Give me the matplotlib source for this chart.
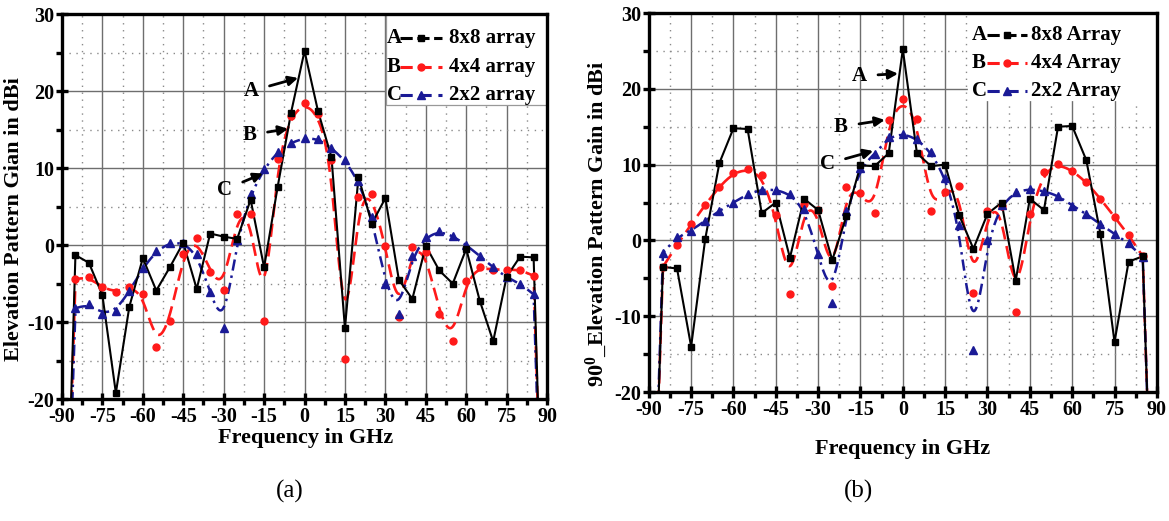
import numpy as np
import matplotlib
matplotlib.use("Agg")
import matplotlib.pyplot as plt
from matplotlib.patches import Rectangle
from matplotlib.lines import Line2D
from matplotlib.ticker import MultipleLocator

plt.rcParams['font.family'] = ['Liberation Serif', 'DejaVu Serif']
plt.rcParams['font.weight'] = 'bold'
plt.rcParams['mathtext.fontset'] = 'custom'
plt.rcParams['mathtext.rm'] = 'Liberation Serif:bold'
plt.rcParams['mathtext.it'] = 'Liberation Serif:bold'
plt.rcParams['mathtext.bf'] = 'Liberation Serif:bold'

# ---------------- data ----------------
angles = list(range(-90, 91, 5))

# panel (a)
a_8x8 = [-60, -1.3, -2.3, -6.5, -19.2, -8.0, -1.7, -5.9, -2.9, 0.3, -5.7, 1.5, 1.1, 0.8,
         5.9, -2.9, 7.5, 17.2, 25.2, 17.4, 11.4, -10.8, 8.8, 2.8, 6.1, -4.5, -7.0, -0.1,
         -3.3, -5.0, -0.5, -7.2, -12.5, -4.1, -1.5, -1.6, -60]
a_4x4 = [-60, -4.4, -4.2, -5.5, -6.1, -5.5, -6.3, -13.2, -9.9, -1.2, 0.9, -3.5, -5.8, 4.0,
         4.0, -9.9, 11.2, 16.8, 18.4, 17.0, 11.0, -14.8, 6.2, 6.6, -0.1, -9.4, -0.3, -0.9,
         -8.9, -12.5, -4.6, -2.9, -3.2, -3.2, -3.2, -4.0, -60]
a_2x2 = [-60, -8.2, -7.7, -8.9, -8.5, -6.0, -3.0, -0.8, 0.3, 0.3, -1.2, -6.1, -10.8, 0.7,
         6.6, 9.9, 12.1, 13.3, 13.9, 13.8, 12.6, 11.0, 8.3, 3.6, -5.0, -8.9, -1.4, 1.0,
         1.8, 1.2, 0.0, -1.4, -2.9, -4.2, -5.0, -6.4, -60]

# panel (b)
b_8x8 = [-60, -3.5, -3.7, -14.0, 0.2, 10.2, 14.8, 14.7, 3.6, 5.0, -2.3, 5.5, 4.0, -2.6,
         3.2, 9.9, 9.8, 11.5, 25.2, 11.5, 9.8, 10.0, 3.3, -1.1, 3.5, 5.0, -5.3, 5.5,
         4.0, 15.0, 15.1, 10.6, 0.9, -13.4, -2.8, -2.1, -60]
b_4x4 = [-60, -3.5, -0.6, 2.1, 4.7, 7.1, 8.9, 9.4, 8.6, 3.3, -7.1, 4.8, 4.0, -6.0,
         7.0, 6.2, 3.6, 15.9, 18.6, 16.0, 3.9, 6.4, 7.2, -6.9, 3.9, 4.6, -9.4, 3.5,
         9.0, 10.1, 9.2, 7.7, 5.5, 3.1, 0.7, -2.1, -60]
b_2x2 = [-60, -1.6, 0.4, 1.3, 2.6, 3.9, 5.0, 6.1, 6.7, 6.7, 6.1, 4.2, -1.8, -8.2,
         3.9, 9.6, 11.4, 13.6, 14.1, 13.4, 11.6, 8.3, 2.0, -14.5, 0.1, 4.7, 6.4, 6.8,
         6.5, 5.9, 4.6, 3.5, 2.1, 0.9, -0.4, -2.2, -60]

legend_a = ["8x8 array", "4x4 array", "2x2 array"]
legend_b = ["8x8 Array", "4x4 Array", "2x2 Array"]
letters = ["A", "B", "C"]
xticks = list(range(-90, 91, 15))
yticks = list(range(-20, 31, 10))

RED = '#ff1a1a'
BLUE = '#1a1a96'


def bspline(x, y, n=24):
    """uniform cubic B-spline (clamped) through interior control points"""
    px = np.r_[x[0], x[0], x, x[-1], x[-1]].astype(float)
    py = np.r_[y[0], y[0], y, y[-1], y[-1]].astype(float)
    t = np.linspace(0, 1, n, endpoint=False)
    b0 = (1 - t) ** 3 / 6
    b1 = (3 * t ** 3 - 6 * t ** 2 + 4) / 6
    b2 = (-3 * t ** 3 + 3 * t ** 2 + 3 * t + 1) / 6
    b3 = t ** 3 / 6
    xs, ys = [], []
    for i in range(len(px) - 3):
        xs.append(b0 * px[i] + b1 * px[i + 1] + b2 * px[i + 2] + b3 * px[i + 3])
        ys.append(b0 * py[i] + b1 * py[i + 1] + b2 * py[i + 2] + b3 * py[i + 3])
    xs = np.concatenate(xs + [[px[-1]]])
    ys = np.concatenate(ys + [[py[-1]]])
    return xs, ys


def smooth_series(x, y):
    x = np.asarray(x, float)
    y = np.asarray(y, float)
    sx, sy = bspline(x[1:-1], y[1:-1])
    return np.r_[x[0], sx, x[-1]], np.r_[y[0], sy, y[-1]]


styles = [
    dict(color='black', ls='-', lw=1.5, marker='s', ms=4.5),
    dict(color=RED, ls=(0, (5, 2.5)), lw=1.9, marker='o', ms=5),
    dict(color=BLUE, ls=(0, (4.5, 2, 1, 2)), lw=1.8, marker='^', ms=5.5),
]


def draw_panel(ax, series, labels, legbox, legrows, hx, annots):
    x = np.asarray(angles, float)
    s0 = styles[0]
    ax.plot(x, series[0], color=s0['color'], ls='-', lw=s0['lw'], zorder=3)
    ax.plot(x[1:-1], series[0][1:-1], ls='none', marker='s', ms=s0['ms'],
            color='black', zorder=4)
    for k in (1, 2):
        st = styles[k]
        sx, sy = smooth_series(x, series[k])
        ax.plot(sx, sy, color=st['color'], ls=st['ls'], lw=st['lw'], zorder=2)
        ax.plot(x[1:-1], series[k][1:-1], ls='none', marker=st['marker'],
                ms=st['ms'], color=st['color'], zorder=3)

    ax.set_xlim(-90, 90)
    ax.set_ylim(-20, 30)
    ax.xaxis.set_minor_locator(MultipleLocator(7.5))
    ax.yaxis.set_minor_locator(MultipleLocator(5))
    ax.set_xticks(xticks)
    ax.set_xticklabels([str(v) for v in xticks])
    ax.set_yticks(yticks)
    ax.set_yticklabels([str(v) for v in yticks])
    ax.set_axisbelow(True)
    ax.grid(which='major', color='#6e6e6e', lw=1.0, ls='-')
    ax.grid(which='minor', color='#8a8a8a', lw=1.0, ls=(0, (1, 4)))
    ax.tick_params(which='major', direction='inout', length=9, width=2.4,
                   labelsize=14.5, pad=1, top=False, right=False)
    ax.tick_params(which='minor', direction='out', length=4, width=2.4,
                   top=False, right=False)
    for sp in ax.spines.values():
        sp.set_linewidth(2.4)
        sp.set_zorder(6)

    # legend box
    x0, y0, ec = legbox
    ax.add_patch(Rectangle((x0, y0), 1 - x0, 1 - y0, transform=ax.transAxes,
                           facecolor='white', edgecolor=ec, lw=0.9, zorder=5,
                           clip_on=False))
    lx_letter, lx_h0, lx_h1, lx_text = hx
    for k in range(3):
        yy = legrows[k]
        st = styles[k]
        ax.text(lx_letter, yy, letters[k], transform=ax.transAxes, fontsize=15,
                fontweight='bold', ha='left', va='center', zorder=7)
        ax.add_line(Line2D([lx_h0, lx_h1], [yy, yy], transform=ax.transAxes,
                           color=st['color'], lw=2.2,
                           ls=(0, (4, 2.2)) if k > 0 else (0, (4, 1.5)), zorder=7))
        ax.plot([(lx_h0 + lx_h1) / 2], [yy], transform=ax.transAxes,
                marker=st['marker'], ms=st['ms'], color=st['color'], zorder=8,
                clip_on=False)
        ax.text(lx_text, yy, labels[k], transform=ax.transAxes, fontsize=15,
                fontweight='bold', ha='left', va='center', zorder=7)

    for (lab, txy, tip) in annots:
        ax.annotate(lab, xy=tip, xytext=txy, fontsize=15, fontweight='bold',
                    ha='center', va='center', zorder=7,
                    arrowprops=dict(arrowstyle='-|>', color='black', lw=2.0,
                                    mutation_scale=14, shrinkA=6, shrinkB=0))


fig = plt.figure(figsize=(11.69, 5.21), dpi=100)
ax1 = fig.add_axes([0.053, 0.234, 0.415, 0.739])
ax2 = fig.add_axes([0.555, 0.2476, 0.4346, 0.7274])

draw_panel(ax1, [np.array(a_8x8), np.array(a_4x4), np.array(a_2x2)], legend_a,
           (0.668, 0.764, '#999999'), [0.938, 0.862, 0.790],
           (0.670, 0.697, 0.784, 0.798),
           [("A", (-19.8, 20.0), (-2.4, 21.7)),
            ("B", (-20.4, 14.3), (-6.1, 15.1)),
            ("C", (-29.6, 7.2), (-15.4, 9.3))])

draw_panel(ax2, [np.array(b_8x8), np.array(b_4x4), np.array(b_2x2)], legend_b,
           (0.628, 0.770, 'white'), [0.942, 0.868, 0.794],
           (0.636, 0.665, 0.744, 0.752),
           [("A", (-15.4, 21.7), (-1.7, 22.0)),
            ("B", (-21.9, 15.0), (-6.4, 15.9)),
            ("C", (-26.8, 10.1), (-10.5, 11.8))])

fig.text(0.261, 0.160, "Frequency in GHz", fontsize=16, fontweight='bold',
         ha='center', va='center')
fig.text(0.7725, 0.138, "Frequency in GHz", fontsize=16, fontweight='bold',
         ha='center', va='center')
fig.text(0.012, 0.58, "Elevation Pattern Gian in dBi", fontsize=16,
         fontweight='bold', rotation=90, ha='center', va='center')
fig.text(0.51, 0.57, r"90$^{0}$_Elevation Pattern Gain in dBi", fontsize=16,
         fontweight='bold', rotation=90, ha='center', va='center')
fig.text(0.248, 0.056, "(a)", fontsize=18, fontweight='normal',
         ha='center', va='center')
fig.text(0.734, 0.056, "(b)", fontsize=18, fontweight='normal',
         ha='center', va='center')

fig.savefig("out.png", dpi=100)
